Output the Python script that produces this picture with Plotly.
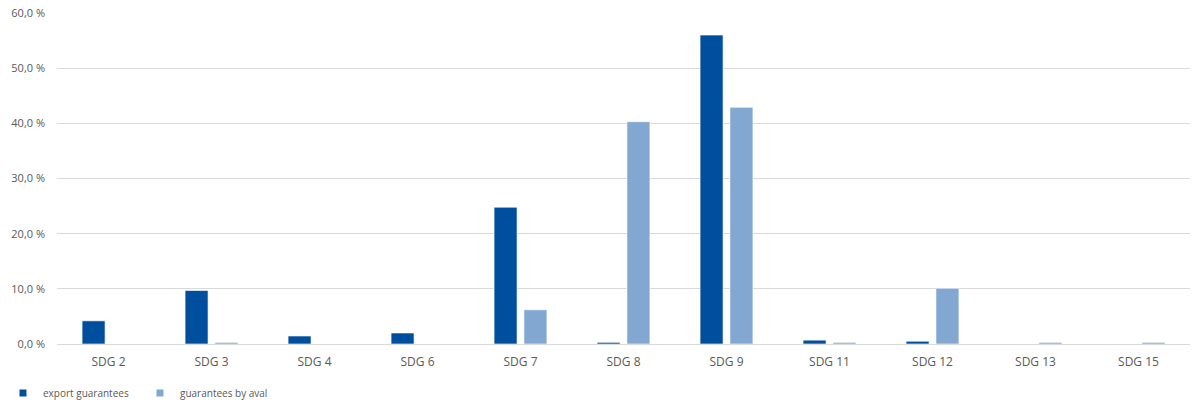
import plotly.graph_objects as go

categories = ["SDG 2", "SDG 3", "SDG 4", "SDG 6", "SDG 7", "SDG 8", "SDG 9", "SDG 11", "SDG 12", "SDG 13", "SDG 15"]
export_guarantees = [4.2, 9.7, 1.45, 2.0, 24.8, 0.3, 56.0, 0.7, 0.5, 0.0, 0.0]
guarantees_by_aval = [0.0, 0.3, 0.0, 0.0, 6.2, 40.3, 42.9, 0.3, 10.1, 0.3, 0.3]
series_names = ["export guarantees", "guarantees by aval"]
colors = ["#004f9f", "#82a7d1"]
y_ticks = [0, 10, 20, 30, 40, 50, 60]
y_ticktext = [f"{v:.1f}".replace(".", ",") + " %" for v in y_ticks]

fig = go.Figure()
for name, vals, c in zip(series_names, [export_guarantees, guarantees_by_aval], colors):
    fig.add_trace(go.Bar(x=categories, y=vals, name=name, showlegend=False,
                         marker=dict(color=c, line=dict(color="#ffffff", width=0.6))))
for name, c in zip(series_names, colors):
    fig.add_trace(go.Scatter(x=[None], y=[None], mode="markers", name=name,
                             marker=dict(symbol="square", size=7, color=c)))

fig.update_layout(
    width=1194, height=403,
    margin=dict(l=57, r=4, t=13, b=59, autoexpand=False),
    paper_bgcolor="white", plot_bgcolor="white",
    barmode="group", bargap=0.42, bargroupgap=0.23,
    font=dict(family="Open Sans", color="#595959"),
    separators=",.",
    showlegend=True,
    legend=dict(orientation="h", x=0.0025, xref="container", xanchor="left",
                y=0.025, yref="container", yanchor="middle",
                font=dict(size=10, color="#595959"), entrywidth=92, entrywidthmode="pixels",
                itemwidth=30, tracegroupgap=0),
)
fig.update_xaxes(showgrid=False, showline=True, linecolor="#d9d9d9", linewidth=1,
                 tickfont=dict(size=12, color="#595959"), ticks="", fixedrange=True,
                 ticklabelstandoff=7)
fig.update_yaxes(range=[0, 60], tickvals=y_ticks, ticktext=y_ticktext, showgrid=True,
                 gridcolor="#d9d9d9", gridwidth=1, zeroline=False,
                 tickfont=dict(size=11, color="#595959"), ticklabelstandoff=11)
fig.write_html("out.html")
